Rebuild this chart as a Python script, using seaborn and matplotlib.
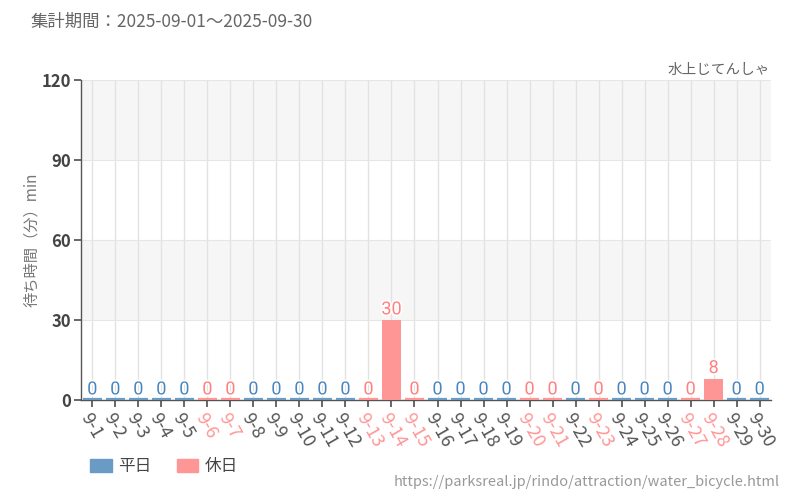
import matplotlib
matplotlib.use("Agg")
import matplotlib.pyplot as plt
import matplotlib.patheffects as pe
from matplotlib.patches import Patch
import seaborn as sns
import pandas as pd

days = [f"9-{d}" for d in range(1, 31)]
holidays = ["9-6", "9-7", "9-13", "9-14", "9-15", "9-20", "9-21", "9-23", "9-27", "9-28"]
values = [0, 0, 0, 0, 0, 0, 0, 0, 0, 0,
          0, 0, 0, 30, 0, 0, 0, 0, 0, 0,
          0, 0, 0, 0, 0, 0, 0, 8, 0, 0]
yticks = [0, 30, 60, 90, 120]
series = ["平日", "休日"]

title = "集計期間：2025-09-01～2025-09-30"
subtitle = "水上じてんしゃ"
ylabel = "待ち時間（分）min"
source = "https://parksreal.jp/rindo/attraction/water_bicycle.html"

C_WEEK = "#6a9bc4"
C_HOL = "#ff9696"
C_WEEK_T = "#4a86bd"
C_HOL_T = "#ff8080"

sns.set_theme(style="white")
plt.rcParams['font.family'] = ['Noto Sans CJK JP', 'DejaVu Sans']

df = pd.DataFrame({"day": days, "value": values,
                   "type": ["休日" if d in holidays else "平日" for d in days]})

fig = plt.figure(figsize=(8, 5), dpi=100)
ax = fig.add_axes([0.101, 0.2, 0.863, 0.64])

# alternating bands
for i in range(len(yticks) - 1):
    if i % 2 == 1:
        ax.axhspan(yticks[i], yticks[i + 1], color="#f6f6f6", zorder=0, lw=0)

sns.barplot(data=df, x="day", y="value", hue="type", order=days,
            hue_order=series, palette={"平日": C_WEEK, "休日": C_HOL},
            dodge=False, width=0.83, ax=ax, legend=False, zorder=3,
            linewidth=0, saturation=1)

# thin baseline line for each bar and value labels
for i, (d, v) in enumerate(zip(days, values)):
    col = C_HOL if d in holidays else C_WEEK
    ax.plot([i - 0.415, i + 0.415], [0.45, 0.45], color=col, lw=1.6, zorder=4,
            solid_capstyle="butt")
    tcol = C_HOL_T if d in holidays else C_WEEK_T
    ax.text(i, v + 0.6, str(v), ha="center", va="bottom", fontsize=13,
            color=tcol, family=["Liberation Sans Narrow", "Roboto", "DejaVu Sans"],
            zorder=5,
            path_effects=[pe.withStroke(linewidth=2.5, foreground="white")])

ax.set_xlim(-0.5, len(days) - 0.5)
ax.set_ylim(0, 120)
ax.set_yticks(yticks)
ax.set_xlabel("")
ax.set_ylabel(ylabel, color="#777777", fontsize=11, labelpad=1)

ax.grid(True, axis="x", color="#e2e2e2", lw=1, zorder=1)
ax.grid(True, axis="y", color="#e6e6e6", lw=0.8, zorder=1)
ax.set_axisbelow(True)

for s in ["top", "right"]:
    ax.spines[s].set_visible(False)
for s in ["left", "bottom"]:
    ax.spines[s].set_color("#555555")
    ax.spines[s].set_linewidth(1)

ax.tick_params(axis="y", left=True, length=5, color="#555555", labelsize=12,
               labelcolor="#444444", pad=2)
ax.tick_params(axis="x", bottom=True, length=5, color="#555555", labelsize=13,
               pad=2)
for lbl in ax.get_yticklabels():
    lbl.set_fontweight("bold")
for lbl, d in zip(ax.get_xticklabels(), days):
    lbl.set_rotation(-60)
    lbl.set_ha("left")
    lbl.set_va("top")
    lbl.set_rotation_mode("anchor")
    lbl.set_color(C_HOL if d in holidays else "#555555")

fig.text(30 / 800, 1 - 22 / 500, title, fontsize=12.5, color="#666666", va="center", ha="left")
fig.text(770 / 800, 1 - 70 / 500, subtitle, fontsize=10.5, color="#666666", va="center", ha="right")
fig.text(780 / 800, 1 - 482 / 500, source, fontsize=10.5, color="#999999", va="center", ha="right")

handles = [Patch(color=C_WEEK), Patch(color=C_HOL)]
fig.legend(handles, series, loc="center left", bbox_to_anchor=(90 / 800, 1 - 467 / 500),
           frameon=False, ncol=2, fontsize=12, handlelength=1.3, handleheight=0.85,
           columnspacing=1.5, handletextpad=0.4, labelcolor="#444444",
           borderpad=0, borderaxespad=0)

fig.savefig("out.png", dpi=100)
